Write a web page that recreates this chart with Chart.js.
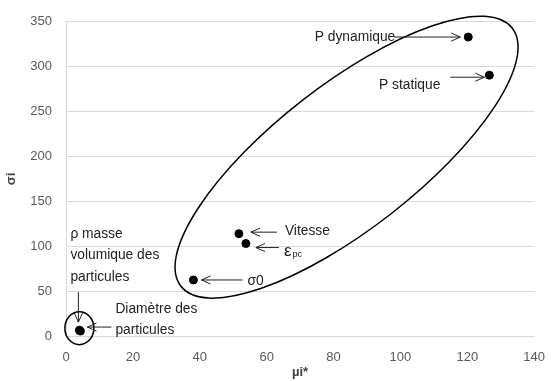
<!DOCTYPE html>
<html lang="fr">
<head>
<meta charset="utf-8">
<script src="https://cdn.jsdelivr.net/npm/chart.js@4.4.1/dist/chart.umd.min.js"></script>
<style>
  html, body { margin: 0; padding: 0; background: #fff; }
  #wrap { width: 551px; height: 381px; }
</style>
</head>
<body>
<div id="wrap"><canvas id="sensChart" width="551" height="381"></canvas></div>
<script>
// Morris screening: mean of elementary effects vs. their standard deviation
const params = ['P dynamique', 'P statique', 'Vitesse', 'εpc', 'σ0', 'ρ masse\nvolumique des\nparticules', 'Diamètre des\nparticules'];
const muStar = [120.3, 126.6, 51.7, 53.8, 38.1, 4.0, 4.3];
const sigma = [333, 290.5, 114, 103, 62.4, 6.5, 5.5];

const xMax = 140, xStep = 20;
const yMax = 350, yStep = 50;

const FONT = '"Liberation Sans", Arial, sans-serif';

// callouts: text offset and arrow offsets relative to the point they designate
const callouts = [
    { i: 0, align: 'right', tx: -73, ty: 0, from: [-74, 0], to: [-8, 0] },
    { i: 1, align: 'right', tx: -49, ty: 10, from: [-39, 2], to: [-5, 2] },
    { i: 2, align: 'left', tx: 46, ty: -2, from: [38, -1.5], to: [12, -1.5] },
    { i: 3, align: 'left', tx: 38, ty: 9, from: [33, 4], to: [10, 4], sub: true },
    { i: 4, align: 'left', tx: 54, ty: 1, from: [49, 0], to: [8, 0] },
    { i: 5, align: 'left', tx: -9, ty: -96, from: [-1, -38], to: [-1, -8] },
    { i: 6, align: 'left', tx: 35, ty: -22, from: [31, -4], to: [7, -4] }
];

function arrow(ctx, x1, y1, x2, y2) {
    const a = Math.atan2(y2 - y1, x2 - x1);
    const len = 10, spread = 0.42;
    ctx.beginPath();
    ctx.moveTo(x1, y1);
    ctx.lineTo(x2, y2);
    ctx.moveTo(x2 - len * Math.cos(a - spread), y2 - len * Math.sin(a - spread));
    ctx.lineTo(x2, y2);
    ctx.lineTo(x2 - len * Math.cos(a + spread), y2 - len * Math.sin(a + spread));
    ctx.stroke();
}

const annotations = {
    id: 'annotations',
    afterDatasetsDraw(chart) {
        const ctx = chart.ctx;
        const sx = chart.scales.x, sy = chart.scales.y;
        const pts = chart.getDatasetMeta(0).data;
        ctx.save();

        // groups of parameters
        ctx.strokeStyle = '#000';
        ctx.lineWidth = 1.5;
        ctx.beginPath();
        ctx.ellipse(sx.getPixelForValue(83.9), sy.getPixelForValue(199.2), 210, 72, -37.9 * Math.PI / 180, 0, 2 * Math.PI);
        ctx.stroke();
        ctx.beginPath();
        ctx.ellipse(pts[5].x, pts[5].y - 2, 14.5, 16.5, 0, 0, 2 * Math.PI);
        ctx.stroke();

        ctx.lineWidth = 1;
        ctx.strokeStyle = '#222';
        ctx.fillStyle = '#222';
        ctx.textBaseline = 'middle';
        callouts.forEach(c => {
            const p = pts[c.i];
            arrow(ctx, p.x + c.from[0], p.y + c.from[1], p.x + c.to[0], p.y + c.to[1]);
            const x = p.x + c.tx, y = p.y + c.ty;
            if (c.sub) {
                ctx.textAlign = 'left';
                ctx.font = '17px ' + FONT;
                ctx.fillText('ε', x, y - 1);
                const w = ctx.measureText('ε').width;
                ctx.font = '9px ' + FONT;
                ctx.fillText(params[c.i].slice(1), x + w + 1, y + 2);
                return;
            }
            ctx.font = '13.8px ' + FONT;
            ctx.textAlign = c.align;
            params[c.i].split('\n').forEach((line, k) => ctx.fillText(line, x, y + k * 21.5));
        });
        ctx.restore();
    }
};

new Chart(document.getElementById('sensChart'), {
    type: 'scatter',
    data: {
        datasets: [{
            data: muStar.map((m, i) => ({ x: m, y: sigma[i] })),
            backgroundColor: '#000',
            borderColor: '#000',
            pointRadius: 4,
            pointHoverRadius: 4
        }]
    },
    options: {
        responsive: false,
        animation: false,
        layout: { padding: { top: 18, right: 13, left: 0, bottom: 0 } },
        plugins: { legend: { display: false }, tooltip: { enabled: false } },
        scales: {
            x: {
                min: 0, max: xMax,
                ticks: { stepSize: xStep, color: '#595959', font: { family: FONT, size: 13 }, padding: 6, maxRotation: 0 },
                grid: { display: false },
                border: { display: true, color: '#d9d9d9' },
                title: { display: true, text: 'µi*', color: '#404040', font: { family: FONT, size: 13, weight: 'bold' }, padding: { top: 0, bottom: 1 } },
                afterFit(scale) { scale.height = 45; }
            },
            y: {
                min: 0, max: yMax,
                ticks: { stepSize: yStep, color: '#595959', font: { family: FONT, size: 13 }, padding: 14 },
                grid: { color: '#d9d9d9', drawTicks: false },
                border: { display: true, color: '#d9d9d9' },
                title: { display: true, text: 'σi', color: '#404040', font: { family: FONT, size: 13, weight: 'bold' }, padding: { top: 4, bottom: 0 } },
                afterFit(scale) { scale.width = 66; }
            }
        }
    },
    plugins: [annotations]
});
</script>
</body>
</html>
